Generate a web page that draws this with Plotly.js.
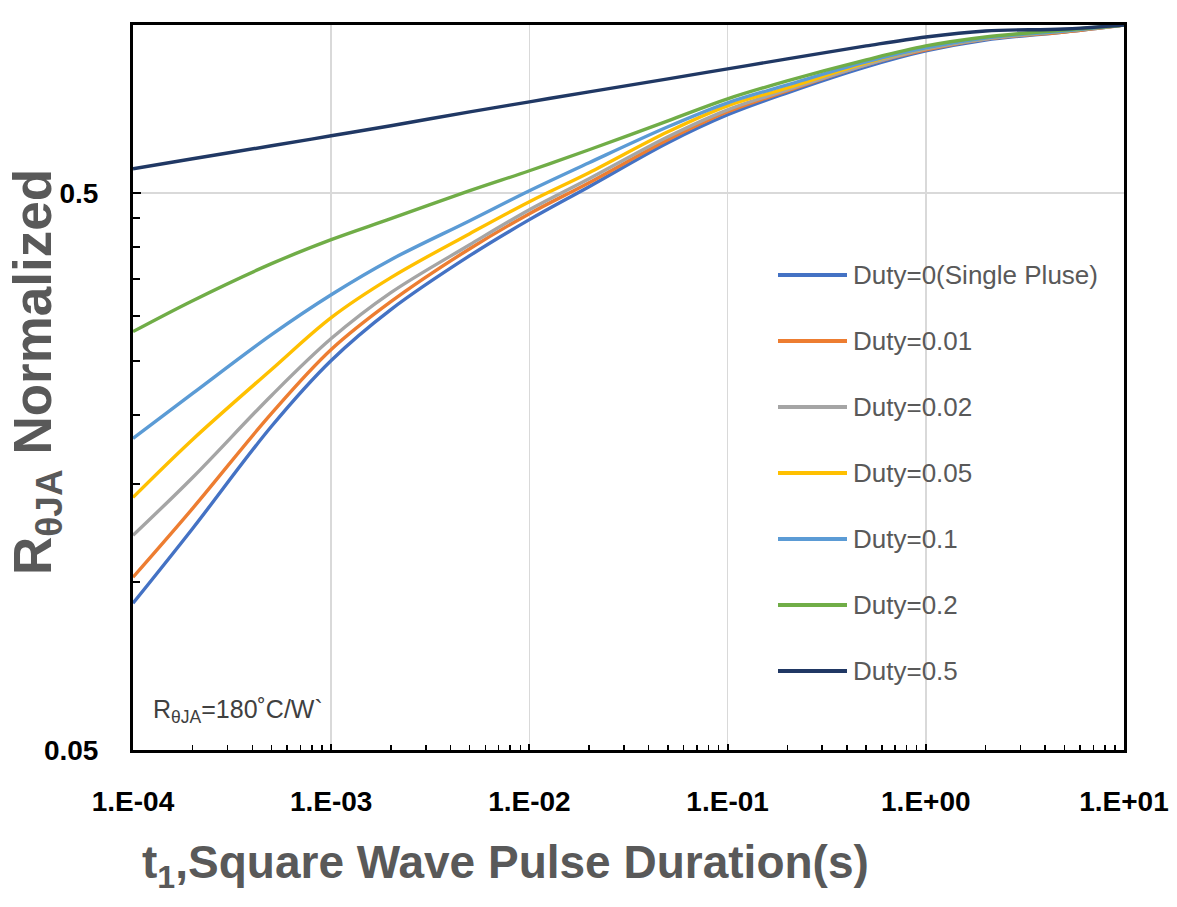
<!DOCTYPE html>
<html>
<head>
<meta charset="utf-8">
<script src="https://cdn.plot.ly/plotly-3.0.1.min.js"></script>
<style>html,body{margin:0;padding:0;background:#fff;}#chart{width:1177px;height:907px;}</style>
</head>
<body>
<div id="chart"></div>
<script>
// Pulse duration t1 (s)
const tSec = [1e-4, 2e-4, 5e-4, 1e-3, 2e-3, 5e-3, 1e-2, 2e-2, 5e-2, 1e-1, 2e-1, 5e-1, 1, 2, 5, 10];

// Normalized R_thetaJA per duty cycle
const duty0   = [0.0917, 0.1249, 0.1905, 0.2500, 0.3085, 0.3855, 0.4474, 0.5126, 0.6147, 0.6900, 0.7555, 0.8410, 0.8984, 0.9401, 0.9716, 1.0];
const duty001 = [0.1021, 0.1357, 0.2009, 0.2616, 0.3188, 0.3968, 0.4586, 0.5212, 0.6223, 0.6986, 0.7617, 0.8480, 0.9021, 0.9440, 0.9716, 1.0];
const duty002 = [0.1214, 0.1542, 0.2164, 0.2737, 0.3309, 0.4034, 0.4662, 0.5298, 0.6301, 0.7044, 0.7649, 0.8480, 0.9058, 0.9440, 0.9757, 1.0];
const duty005 = [0.1420, 0.1804, 0.2409, 0.2985, 0.3521, 0.4222, 0.4818, 0.5431, 0.6432, 0.7161, 0.7712, 0.8550, 0.9096, 0.9479, 0.9757, 1.0];
const duty01  = [0.1812, 0.2182, 0.2782, 0.3281, 0.3792, 0.4455, 0.5042, 0.5660, 0.6567, 0.7249, 0.7808, 0.8586, 0.9096, 0.9479, 0.9757, 1.0];
const duty02  = [0.2817, 0.3201, 0.3730, 0.4119, 0.4492, 0.5042, 0.5476, 0.5972, 0.6731, 0.7370, 0.7938, 0.8657, 0.9171, 0.9518, 0.9797, 1.0];
const duty05  = [0.5521, 0.5754, 0.6071, 0.6327, 0.6594, 0.6986, 0.7280, 0.7586, 0.8004, 0.8341, 0.8692, 0.9171, 0.9518, 0.9757, 0.9837, 1.0];

const seriesNames = ['Duty=0(Single Pluse)', 'Duty=0.01', 'Duty=0.02', 'Duty=0.05', 'Duty=0.1', 'Duty=0.2', 'Duty=0.5'];
const seriesData = [duty0, duty001, duty002, duty005, duty01, duty02, duty05];
const seriesColors = ['#4472C4', '#ED7D31', '#A5A5A5', '#FFC000', '#5B9BD5', '#70AD47', '#203864'];

const xTickVals = [1e-4, 1e-3, 1e-2, 1e-1, 1, 10];
const xTickText = ['1.E-04', '1.E-03', '1.E-02', '1.E-01', '1.E+00', '1.E+01'];
const yTickVals = [0.05, 0.5];
const yTickText = ['0.05', '0.5'];

// ---- layout helpers (pixel geometry of the plot area) ----
const L = 133, R = 1124, T = 25, B = 750;
const W = 1177, H = 907;
const px2x = px => (px - L) / (R - L);
const px2y = py => (B - py) / (B - T);

const xMinor = [];
for (let e = -4; e < 1; e++) for (let k = 2; k <= 9; k++) xMinor.push(k * Math.pow(10, e));
const yMinor = [];
for (let k = 2; k <= 9; k++) yMinor.push(+(k * 0.05).toFixed(2));

const traces = seriesData.map((d, i) => ({
  x: tSec, y: d, type: 'scatter', mode: 'lines', name: seriesNames[i],
  line: {color: seriesColors[i], width: 3.4, shape: 'spline', smoothing: 1.0},
  showlegend: false, hoverinfo: 'x+y+name'
}));

const shapes = [];
const annotations = [];
seriesNames.forEach((nm, i) => {
  const yy = 275 + 66 * i;
  shapes.push({type: 'line', xref: 'paper', yref: 'paper',
    x0: px2x(778), x1: px2x(847), y0: px2y(yy), y1: px2y(yy),
    line: {color: seriesColors[i], width: 4}});
  annotations.push({xref: 'paper', yref: 'paper', x: px2x(851), y: px2y(yy),
    xanchor: 'left', yanchor: 'middle', showarrow: false, text: nm,
    font: {family: 'Liberation Sans, Arial, sans-serif', size: 26, color: '#595959'}});
});

annotations.push({xref: 'paper', yref: 'paper', x: px2x(151), y: px2y(711),
  xanchor: 'left', yanchor: 'middle', showarrow: false,
  text: 'R<sub>θJA</sub>=180˚C/W`',
  font: {family: 'Liberation Sans, Arial, sans-serif', size: 25, color: '#404040'}});

annotations.push({xref: 'paper', yref: 'paper', x: px2x(505), y: px2y(866),
  xanchor: 'center', yanchor: 'middle', showarrow: false,
  text: '<b>t<sub>1</sub>,Square Wave Pulse Duration(s)</b>',
  font: {family: 'Liberation Sans, Arial, sans-serif', size: 46, color: '#595959'}});

annotations.push({xref: 'paper', yref: 'paper', x: px2x(36), y: px2y(372),
  xanchor: 'center', yanchor: 'middle', showarrow: false, textangle: -90,
  text: '<b>R<sub>θJA</sub> Normalized</b>',
  font: {family: 'Liberation Sans, Arial, sans-serif', size: 53, color: '#595959'}});

const tickFont = {family: 'Liberation Sans, Arial, sans-serif', size: 28, color: '#000000', weight: 'bold'};

const layout = {
  width: W, height: H,
  margin: {l: L, r: W - R, t: T, b: H - B, pad: 0},
  paper_bgcolor: '#ffffff', plot_bgcolor: '#ffffff',
  showlegend: false,
  xaxis: {
    type: 'log', range: [-4, 1], autorange: false,
    tickmode: 'array', tickvals: xTickVals, ticktext: xTickText,
    tickfont: tickFont, ticks: 'inside', ticklen: 6, tickwidth: 2, tickcolor: '#000',
    ticklabelstandoff: 24,
    showgrid: true, gridcolor: '#d9d9d9', gridwidth: 1.5,
    showline: true, linecolor: '#000', linewidth: 3, mirror: true,
    zeroline: false,
    minor: {tickmode: 'array', tickvals: xMinor, ticks: 'inside', ticklen: 5, tickwidth: 1.5, tickcolor: '#000', showgrid: false}
  },
  yaxis: {
    type: 'log', range: [Math.log10(0.05), 0], autorange: false,
    tickmode: 'array', tickvals: yTickVals, ticktext: yTickText,
    tickfont: tickFont, ticks: 'inside', ticklen: 8, tickwidth: 2, tickcolor: '#000',
    ticklabelstandoff: 26,
    showgrid: true, gridcolor: '#d9d9d9', gridwidth: 1.5,
    showline: true, linecolor: '#000', linewidth: 3, mirror: true,
    zeroline: false,
    minor: {tickmode: 'array', tickvals: yMinor, ticks: 'inside', ticklen: 7, tickwidth: 2, tickcolor: '#000', showgrid: false}
  },
  shapes: shapes,
  annotations: annotations
};

Plotly.newPlot('chart', traces, layout, {displayModeBar: false, staticPlot: true});
</script>
</body>
</html>
